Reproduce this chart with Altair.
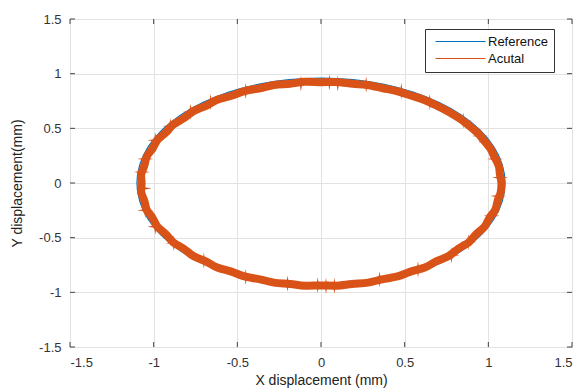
import altair as alt
import pandas as pd

# Commanded (reference) trajectory, read around the ellipse counter-clockwise
ref_x = [1.100, 1.083, 1.034, 0.953, 0.843, 0.707, 0.550, 0.376, 0.191, 0.000,
         -0.191, -0.376, -0.550, -0.707, -0.843, -0.953, -1.034, -1.083, -1.100,
         -1.083, -1.034, -0.953, -0.843, -0.707, -0.550, -0.376, -0.191, 0.000,
         0.191, 0.376, 0.550, 0.707, 0.843, 0.953, 1.034, 1.083]
ref_y = [0.000, 0.167, 0.328, 0.480, 0.617, 0.735, 0.831, 0.902, 0.945, 0.960,
         0.945, 0.902, 0.831, 0.735, 0.617, 0.480, 0.328, 0.167, 0.000,
         -0.167, -0.328, -0.480, -0.617, -0.735, -0.831, -0.902, -0.945, -0.960,
         -0.945, -0.902, -0.831, -0.735, -0.617, -0.480, -0.328, -0.167]

# Measured (actual) trajectory
act_x = [1.078, 1.069, 1.062, 1.035, 1.013, 0.971, 0.934, 0.877, 0.826, 0.757,
         0.694, 0.614, 0.541, 0.452, 0.371, 0.275, 0.190, 0.091,
         0.002, -0.097, -0.184, -0.281, -0.365, -0.458, -0.535, -0.620, -0.688,
         -0.763, -0.820, -0.883, -0.928, -0.977, -1.007, -1.041, -1.056, -1.074,
         -1.072, -1.074, -1.056, -1.041, -1.007, -0.977, -0.928, -0.883, -0.820,
         -0.763, -0.688, -0.620, -0.535, -0.458, -0.365, -0.281, -0.184, -0.097,
         0.003, 0.097, 0.184, 0.281, 0.365, 0.458, 0.535, 0.620, 0.688,
         0.763, 0.820, 0.883, 0.928, 0.977, 1.007, 1.041, 1.056, 1.074]
act_y = [0.002, 0.082, 0.158, 0.243, 0.313, 0.394, 0.460, 0.534, 0.592, 0.657,
         0.706, 0.761, 0.798, 0.841, 0.867, 0.897, 0.908, 0.924,
         0.922, 0.925, 0.908, 0.897, 0.867, 0.841, 0.798, 0.761, 0.706,
         0.657, 0.592, 0.534, 0.460, 0.394, 0.313, 0.243, 0.158, 0.082,
         -0.002, -0.085, -0.161, -0.246, -0.318, -0.401, -0.467, -0.543, -0.601,
         -0.668, -0.717, -0.773, -0.811, -0.855, -0.881, -0.911, -0.923, -0.939,
         -0.937, -0.939, -0.923, -0.911, -0.881, -0.855, -0.811, -0.773, -0.717,
         -0.668, -0.601, -0.543, -0.467, -0.401, -0.318, -0.246, -0.161, -0.085]

# Noise bursts along the measured path
burst_x = [-1.05, -1.07, -1.06, -1.05, -0.99, -0.99, -0.90, -0.78, -0.66, -0.45,
           -0.12, 0.05, 0.10, 0.27, 0.48, 0.65, 0.85, 0.95, 1.04, 1.07,
           1.06, 1.02, 0.88, 0.78, 0.58, 0.35, 0.08, 0.03, -0.02, -0.20,
           -0.45, -0.70, -0.88]
burst_y = [0.22, 0.10, -0.05, -0.25, -0.40, 0.39, 0.52, 0.65, 0.74, 0.84,
           0.91, 0.92, 0.91, 0.90, 0.84, 0.74, 0.57, 0.43, 0.22, 0.05,
           -0.12, -0.30, -0.54, -0.66, -0.79, -0.88, -0.94, -0.94, -0.935, -0.92,
           -0.86, -0.71, -0.55]

tick_values = [-1.5, -1.0, -0.5, 0.0, 0.5, 1.0, 1.5]
series_names = ["Reference", "Acutal"]
series_colors = ["#0072BD", "#D95319"]

ref_df = pd.DataFrame({"x": ref_x, "y": ref_y, "series": series_names[0],
                       "idx": range(len(ref_x))})
act_df = pd.DataFrame({"x": act_x, "y": act_y, "series": series_names[1],
                       "idx": range(len(act_x))})
burst_df = pd.DataFrame({"x": burst_x, "y": burst_y})
ticks_df = pd.DataFrame({"v": tick_values})

FONT = "Liberation Sans"
W, H = 502, 328
ORANGE = series_colors[1]
STAR = "M0,-1L0.14,-0.14L1,0L0.14,0.14L0,1L-0.14,0.14L-1,0L-0.14,-0.14Z"

xscale = alt.Scale(domain=[-1.5, 1.5], nice=False, zero=False)
yscale = alt.Scale(domain=[-1.5, 1.5], nice=False, zero=False)
color = alt.Color("series:N",
                  scale=alt.Scale(domain=series_names, range=series_colors),
                  legend=alt.Legend(title=None, orient="none", legendX=355, legendY=10,
                                    symbolType="M-5,0L5,0", symbolSize=100,
                                    symbolOffset=23, symbolStrokeWidth=1,
                                    labelFont=FONT, labelFontSize=13, labelColor="#111",
                                    labelOffset=21, strokeColor="#333", fillColor="white",
                                    padding=6, rowPadding=3))

xaxis = alt.Axis(values=tick_values, labelExpr="datum.value + ''",
                 title="X displacement (mm)", grid=True, ticks=False, domain=False,
                 labelPadding=9, titlePadding=4)
yaxis = alt.Axis(values=tick_values, labelExpr="datum.value + ''",
                 title="Y displacement(mm)", grid=True, ticks=False, domain=False,
                 labelPadding=9, titlePadding=14)

ref_line = alt.Chart(ref_df).mark_line(interpolate="cardinal-closed", strokeWidth=1.2).encode(
    x=alt.X("x:Q", scale=xscale, axis=xaxis),
    y=alt.Y("y:Q", scale=yscale, axis=yaxis),
    color=color,
    order="idx:Q",
)

act_line = alt.Chart(act_df).mark_line(interpolate="cardinal-closed", strokeWidth=8).encode(
    x=alt.X("x:Q", scale=xscale),
    y=alt.Y("y:Q", scale=yscale),
    color=color,
    order="idx:Q",
)

bursts = alt.Chart(burst_df).mark_point(shape=STAR, size=260, filled=True,
                                        color=ORANGE, opacity=1).encode(
    x=alt.X("x:Q", scale=xscale),
    y=alt.Y("y:Q", scale=yscale),
)

tick_style = dict(color="#444", strokeWidth=1)
base_t = alt.Chart(ticks_df)
bottom_ticks = base_t.mark_rule(**tick_style).encode(
    x=alt.X("v:Q", scale=xscale), y=alt.value(H), y2=alt.value(H - 5))
top_ticks = base_t.mark_rule(**tick_style).encode(
    x=alt.X("v:Q", scale=xscale), y=alt.value(0), y2=alt.value(5))
left_ticks = base_t.mark_rule(**tick_style).encode(
    y=alt.Y("v:Q", scale=yscale), x=alt.value(0), x2=alt.value(5))
right_ticks = base_t.mark_rule(**tick_style).encode(
    y=alt.Y("v:Q", scale=yscale), x=alt.value(W), x2=alt.value(W - 5))

chart = alt.layer(
    ref_line, act_line, bursts, bottom_ticks, top_ticks, left_ticks, right_ticks
).properties(
    width=W, height=H,
    autosize=alt.AutoSizeParams(type="none"),
    padding={"left": 70, "top": 19, "right": 9, "bottom": 42},
    background="white",
).configure_view(
    stroke="#3a3a3a", strokeWidth=1
).configure_axis(
    gridColor="#e2e2e2", gridWidth=1, labelFont=FONT, labelFontSize=13,
    labelColor="#333", titleFont=FONT, titleFontSize=14, titleFontWeight="normal",
    titleColor="#222"
)

chart.save("out.html", embed_options={"renderer": "svg", "actions": False})
